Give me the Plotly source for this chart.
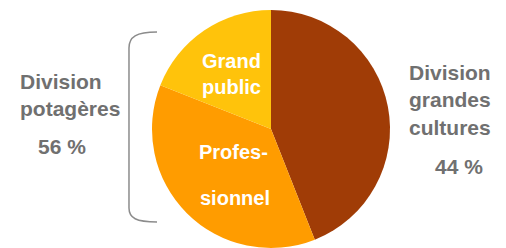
import plotly.graph_objects as go

W, H = 506, 248
OFF = 8  # default page body margin in the written html

labels = ["Division grandes cultures", "Professionnel", "Grand public"]
values = [44, 37, 19]
colors = ["#A03C06", "#FF9C00", "#FFC30B"]

slice_lines = ["Grand<br>public", "Profes-", "sionnel"]
left_title = "Division<br>potagères"
left_value = "56 %"
right_title = "Division<br>grandes<br>cultures"
right_value = "44 %"

def px(x, y):
    # page pixel -> paper coords
    return (x - OFF) / W, 1 - (y - OFF) / H

cx, cy, r = 271, 129, 119
x0, y0 = px(cx - r, cy + r)
x1, y1 = px(cx + r, cy - r)

fig = go.Figure()
fig.add_trace(go.Pie(
    labels=labels, values=values, sort=False, direction="clockwise", rotation=0,
    marker=dict(colors=colors, line=dict(width=0)),
    textinfo="none", hoverinfo="label+percent", showlegend=False,
    domain=dict(x=[x0, x1], y=[y0, y1]),
))

gray = "#707070"
def ann(x, y, text, color, size, align="center"):
    ax, ay = px(x, y)
    fig.add_annotation(x=ax, y=ay, xref="paper", yref="paper", text=text,
                       showarrow=False, align=align, xanchor="center", yanchor="middle",
                       font=dict(family="Liberation Sans, Arial", size=size, color=color))

ann(70, 95, "<b>" + left_title + "</b>", gray, 21, align="left")
ann(62, 146, "<b>" + left_value + "</b>", gray, 21)
ann(450, 100, "<b>" + right_title + "</b>", gray, 21, align="left")
ann(459, 166, "<b>" + right_value + "</b>", gray, 21)
ann(231, 74, "<b>" + slice_lines[0] + "</b>", "white", 20)
ann(233, 152, "<b>" + slice_lines[1] + "</b>", "white", 20)
ann(235, 198, "<b>" + slice_lines[2] + "</b>", "white", 20)

def P(x, y):
    a, b = px(x, y)
    return f"{a:.4f},{b:.4f}"
path = (f"M {P(157,32)} C {P(136,32)} {P(129,37)} {P(129,48)} "
        f"L {P(129,208)} C {P(129,218)} {P(136,222)} {P(157,222)}")
fig.add_shape(type="path", path=path, xref="paper", yref="paper",
              line=dict(color="#8C8C8C", width=1.5))

fig.update_layout(width=W, height=H, margin=dict(l=0, r=0, t=0, b=0),
                  paper_bgcolor="white", plot_bgcolor="white")
fig.write_html("out.html")
